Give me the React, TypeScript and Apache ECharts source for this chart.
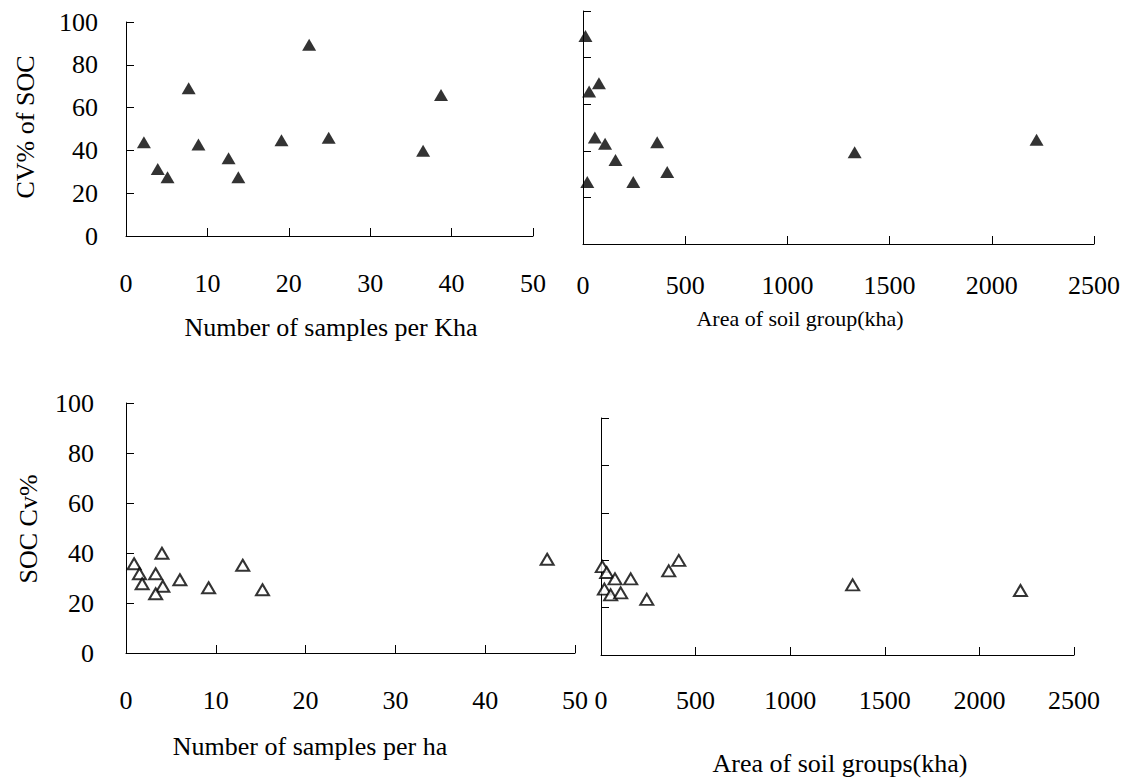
import React, { useEffect, useRef } from "react";
import * as echarts from "echarts";

// Panel A: CV% of SOC vs number of samples per Kha
const topLeftX = [2.2, 3.9, 5.1, 7.7, 8.9, 12.6, 13.8, 19.1, 22.5, 24.9, 36.5, 38.7];
const topLeftY = [43.8, 31.3, 27.4, 69.1, 42.8, 36.3, 27.4, 44.8, 89.4, 45.9, 39.8, 65.9];

// Panel B: CV% of SOC vs area of soil group (kha)
const topRightX = [12, 30, 78, 58, 108, 159, 21, 246, 363, 412, 1329, 2219];
const topRightY = [89.3, 65.4, 69, 45.7, 43, 36.1, 26.6, 26.6, 43.7, 30.9, 39.4, 44.7];

// Panel C: SOC Cv% vs number of samples per ha
const bottomLeftX = [0.9, 1.5, 1.8, 3.3, 4.0, 4.1, 3.3, 6.0, 9.2, 13.0, 15.2, 46.9];
const bottomLeftY = [35.7, 31.7, 27.7, 31.7, 39.9, 26.7, 23.7, 29.3, 26.1, 35.1, 25.3, 37.5];

// Panel D: SOC Cv% vs area of soil groups (kha)
const bottomRightX = [7, 30, 74, 157, 18, 51, 104, 242, 358, 411, 1330, 2217];
const bottomRightY = [37.3, 34.8, 32.1, 32.1, 27.8, 25.4, 26.2, 23.5, 35.5, 39.9, 29.6, 27.2];

const FONT = "Liberation Serif";

const zip = (xs: number[], ys: number[]) => xs.map((x, i) => [x, ys[i]]);
const plain = (v: number) => String(v);

function xAxisCfg(gridIndex: number, max: number, interval: number, margin: number, size: number) {
  return {
    type: "value",
    gridIndex,
    min: 0,
    max,
    interval,
    splitLine: { show: false },
    axisLine: { show: true, onZero: false, lineStyle: { color: "#000", width: 1 } },
    axisTick: { show: true, inside: true, length: 8, lineStyle: { color: "#000" } },
    axisLabel: {
      show: true,
      margin,
      color: "#000",
      fontFamily: FONT,
      fontSize: size,
      formatter: plain,
    },
  };
}

function yAxisCfg(gridIndex: number, showLabel: boolean, margin: number) {
  return {
    type: "value",
    gridIndex,
    min: 0,
    max: 100,
    interval: 20,
    splitLine: { show: false },
    axisLine: { show: true, onZero: false, lineStyle: { color: "#000", width: 1 } },
    axisTick: { show: true, inside: true, length: 8, lineStyle: { color: "#000" } },
    axisLabel: {
      show: showLabel,
      margin,
      color: "#000",
      fontFamily: FONT,
      fontSize: 26,
      formatter: plain,
    },
  };
}

function title(text: string, x: number, y: number, size: number, rotate = false) {
  return {
    type: "text",
    x,
    y,
    rotation: rotate ? Math.PI / 2 : 0,
    style: {
      text,
      fill: "#000",
      fontFamily: FONT,
      fontSize: size,
      textAlign: "center",
      textVerticalAlign: "middle",
      align: "center",
      verticalAlign: "middle",
    },
  };
}

export default function App() {
  const ref = useRef<HTMLDivElement>(null);

  useEffect(() => {
    if (!ref.current) return;
    const chart = echarts.init(ref.current, null, { renderer: "svg" });
    const filled = { color: "#000" };
    const hollow = { color: "#fff", borderColor: "#000", borderWidth: 2 };
    chart.setOption({
      animation: false,
      backgroundColor: "#fff",
      textStyle: { fontFamily: FONT },
      grid: [
        { left: 126, top: 22, width: 407, height: 214 },
        { left: 583, top: 11, width: 514, height: 233 },
        { left: 126, top: 403, width: 449, height: 250 },
        { left: 601, top: 418, width: 473, height: 237 },
      ],
      xAxis: [
        xAxisCfg(0, 50, 10, 34, 26),
        xAxisCfg(1, 2500, 500, 28, 26),
        xAxisCfg(2, 50, 10, 34, 26),
        xAxisCfg(3, 2500, 500, 32, 26),
      ],
      yAxis: [
        yAxisCfg(0, true, 28),
        yAxisCfg(1, false, 8),
        yAxisCfg(2, true, 32),
        yAxisCfg(3, false, 8),
      ],
      series: [
        {
          type: "scatter",
          xAxisIndex: 0,
          yAxisIndex: 0,
          symbol: "triangle",
          symbolSize: [14, 12],
          itemStyle: filled,
          data: zip(topLeftX, topLeftY),
        },
        {
          type: "scatter",
          xAxisIndex: 1,
          yAxisIndex: 1,
          symbol: "triangle",
          symbolSize: [14, 12],
          itemStyle: filled,
          data: zip(topRightX, topRightY),
        },
        {
          type: "scatter",
          xAxisIndex: 2,
          yAxisIndex: 2,
          symbol: "triangle",
          symbolSize: [13, 11],
          itemStyle: hollow,
          data: zip(bottomLeftX, bottomLeftY),
        },
        {
          type: "scatter",
          xAxisIndex: 3,
          yAxisIndex: 3,
          symbol: "triangle",
          symbolSize: [13, 11],
          itemStyle: hollow,
          data: zip(bottomRightX, bottomRightY),
        },
      ],
      graphic: [
        title("CV% of SOC", 25, 127, 26, true),
        title("Number of samples per Kha", 331, 327, 26),
        title("Area of soil group(kha)", 800, 318, 22),
        title("SOC Cv%", 28, 529, 26, true),
        title("Number of samples per ha", 310, 746, 26),
        title("Area of soil groups(kha)", 840, 763, 26),
      ],
    });
    return () => chart.dispose();
  }, []);

  return (
    <div
      ref={ref}
      style={{ position: "fixed", left: 0, top: 0, width: 1123, height: 779, background: "#fff" }}
    />
  );
}
